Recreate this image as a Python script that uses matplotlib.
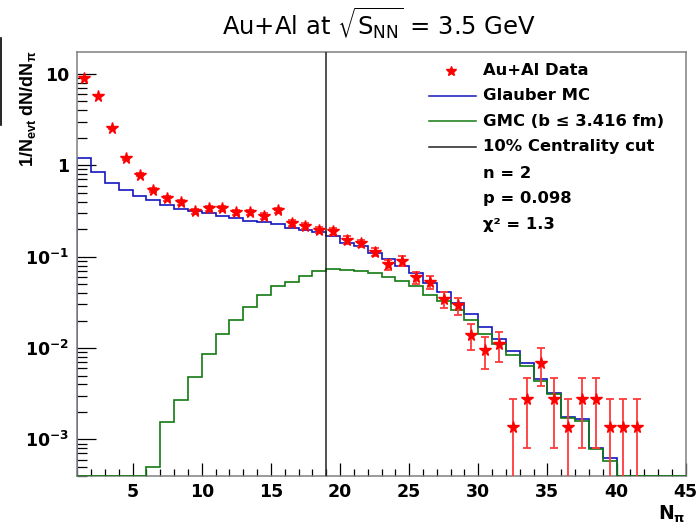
import numpy as np
import matplotlib
matplotlib.use("Agg")
import matplotlib.pyplot as plt
from matplotlib.lines import Line2D
from matplotlib.ticker import FixedLocator, FixedFormatter, NullFormatter

# ---------------- data ----------------
bin_edges = np.arange(1, 46)          # N_pi bin edges, width 1, 1..45

glauber_mc = [1.19, 0.851, 0.645, 0.536, 0.465, 0.413, 0.367, 0.335, 0.313, 0.298,
              0.278, 0.265, 0.247, 0.239, 0.226, 0.204, 0.195, 0.184, 0.169, 0.142,
              0.131, 0.109, 0.094, 0.079, 0.0667, 0.051, 0.041, 0.0313, 0.0235, 0.0169,
              0.0127, 0.0093, 0.0069, 0.0046, 0.0032, 0.00177, 0.00169, 0.00081, 0.00063, 0.0,
              0.0, 0.0, 0.0, 0.0]

gmc_central = [0.0, 0.0, 0.0, 0.0, 0.0, 4.95e-4, 1.56e-3, 2.67e-3, 4.76e-3, 8.57e-3,
               0.0142, 0.0202, 0.0281, 0.0383, 0.0481, 0.0527, 0.062, 0.070, 0.0738, 0.072,
               0.070, 0.0656, 0.0603, 0.0545, 0.0476, 0.0383, 0.0329, 0.026, 0.0202, 0.0144,
               0.011, 0.0083, 0.0064, 0.00434, 0.0031, 0.00172, 0.0016, 0.00078, 0.00058, 0.0,
               0.0, 0.0, 0.0, 0.0]

data_x = np.arange(1.5, 42.0, 1.0)    # bin centres 1.5 .. 41.5
data_y = [9.1, 5.78, 2.58, 1.19, 0.79, 0.54, 0.435, 0.393, 0.313, 0.34,
          0.338, 0.305, 0.305, 0.28, 0.324, 0.233, 0.218, 0.197, 0.19, 0.152,
          0.14, 0.113, 0.0824, 0.0895, 0.0593, 0.0527, 0.0346, 0.0293, 0.0139, 0.0095,
          0.011, 0.00137, 0.00275, 0.0069, 0.00275, 0.00137, 0.00275, 0.00275, 0.00137, 0.00137,
          0.00137]
one_event = 1.372e-3                  # normalised height of a single event (Poisson errors)

centrality_cut = 19

x_major = [5, 10, 15, 20, 25, 30, 35, 40, 45]
x_labels = ["5", "10", "15", "20", "25", "30", "35", "40", "45"]
y_major = [1e-3, 1e-2, 1e-1, 1, 10]
y_labels = [r"$\mathbf{10^{-3}}$", r"$\mathbf{10^{-2}}$", r"$\mathbf{10^{-1}}$", "1", "10"]

legend_labels = ["Au+Al Data", "Glauber MC", "GMC (b \u2264 3.416 fm)", "10% Centrality cut",
                 "n = 2", "p = 0.098", "\u03c7\u00b2 = 1.3"]

# ---------------- style ----------------
plt.rcParams["font.family"] = ["DejaVu Sans"]
plt.rcParams["mathtext.fontset"] = "dejavusans"
plt.rcParams["mathtext.rm"] = "Liberation Sans"
plt.rcParams["mathtext.bf"] = "Liberation Sans:bold"
plt.rcParams["mathtext.it"] = "Liberation Sans:italic"

W, H = 698, 527
YMIN, YMAX = 4.0e-4, 17.4
RED = "#ff0000"
BLUE = "#1515c0"
GREEN = "#127a12"

fig = plt.figure(figsize=(W / 100, H / 100), dpi=100)
fig.patch.set_facecolor("white")
ax = fig.add_axes([77.3 / W, 1 - 475.7 / H, (685.7 - 77.3) / W, (475.7 - 52) / H])

ax.set_yscale("log")
ax.set_xlim(1, 45)
ax.set_ylim(YMIN, YMAX)

# histograms (empty bins drawn on the lower frame, as ROOT does)
ax.stairs(np.maximum(glauber_mc, YMIN), bin_edges, color=BLUE, lw=1.2, zorder=2)
ax.stairs(np.maximum(gmc_central, YMIN), bin_edges, color=GREEN, lw=1.2, zorder=3)

ax.axvline(centrality_cut, color="#222222", lw=1.1, zorder=3)

yv = np.asarray(data_y)
err = np.sqrt(yv * one_event)
err_lo = np.minimum(err, yv * 0.99999)
ax.errorbar(data_x, yv, yerr=[err_lo, err], fmt="none", ecolor="#ff3a3a",
            elinewidth=1.3, capsize=3, capthick=1.3, zorder=4)
ax.plot(data_x, yv, ls="none", marker="*", ms=8.5, color=RED, mec=RED, zorder=5)

# axes / ticks
for s in ax.spines.values():
    s.set_color("#808080")
    s.set_linewidth(1.1)

ax.xaxis.set_major_locator(FixedLocator(x_major))
ax.xaxis.set_major_formatter(FixedFormatter(x_labels))
ax.xaxis.set_minor_locator(FixedLocator(np.arange(1, 46)))
ax.xaxis.set_minor_formatter(NullFormatter())
ax.yaxis.set_major_locator(FixedLocator(y_major))
ax.yaxis.set_major_formatter(FixedFormatter(y_labels))
ax.yaxis.set_minor_locator(matplotlib.ticker.LogLocator(base=10, subs=np.arange(2, 10)))
ax.yaxis.set_minor_formatter(NullFormatter())

ax.tick_params(axis="x", which="major", direction="in", length=9.5, width=0.9,
               color="black", bottom=True, top=False, pad=5)
ax.tick_params(axis="x", which="minor", direction="in", length=5, width=0.9,
               color="black", bottom=True, top=False)
ax.tick_params(axis="y", which="major", direction="in", length=14, width=0.9,
               color="black", left=True, right=False, pad=6)
ax.tick_params(axis="y", which="minor", direction="in", length=7, width=0.9,
               color="black", left=True, right=False)
for lab in ax.get_xticklabels() + ax.get_yticklabels():
    lab.set_fontsize(12.5)
    lab.set_fontweight("bold")

# title
fig.text(379 / W, 1 - 23 / H, r"Au+Al at $\sqrt{\mathrm{S}_{\mathrm{NN}}}$ = 3.5 GeV",
         ha="center", va="center", fontsize=17.5, math_fontfamily="dejavusans")

# axis titles
fig.text(685 / W, 1 - 514 / H, r"N$_{\mathbf{\pi}}$", ha="right", va="center",
         fontsize=13.5, fontweight="bold", math_fontfamily="dejavusans")
fig.text(28 / W, 1 - 51 / H, r"1/N$_{\mathbf{evt}}$ dN/dN$_{\mathbf{\pi}}$",
         rotation=90, ha="center", va="top", fontsize=13, fontweight="bold",
         family="Liberation Sans", math_fontfamily="custom")

# left-edge line seen in the reference
fig.add_artist(Line2D([0.6 / W, 0.6 / W], [1 - 38 / H, 1 - 125 / H], color="black", lw=1.2))

# legend (drawn by hand to mimic ROOT's TLegend)
rows_y = [70.7, 95.7, 121.3, 146.7, 173, 198, 224]
handle_styles = [("marker", RED), ("line", BLUE), ("line", GREEN), ("line", "#222222"),
                 None, None, None]
for ry, lab, hs in zip(rows_y, legend_labels, handle_styles):
    yf = 1 - ry / H
    if hs is not None:
        kind, col = hs
        if kind == "marker":
            fig.add_artist(Line2D([451 / W], [yf], ls="none", marker="*", ms=7,
                                  color=col, mec=col))
        else:
            fig.add_artist(Line2D([429 / W, 476 / W], [yf, yf], color=col, lw=1.1))
    fig.text(483 / W, yf, lab, ha="left", va="center", fontsize=11.8, fontweight="bold")

fig.savefig("out.png", dpi=100)
